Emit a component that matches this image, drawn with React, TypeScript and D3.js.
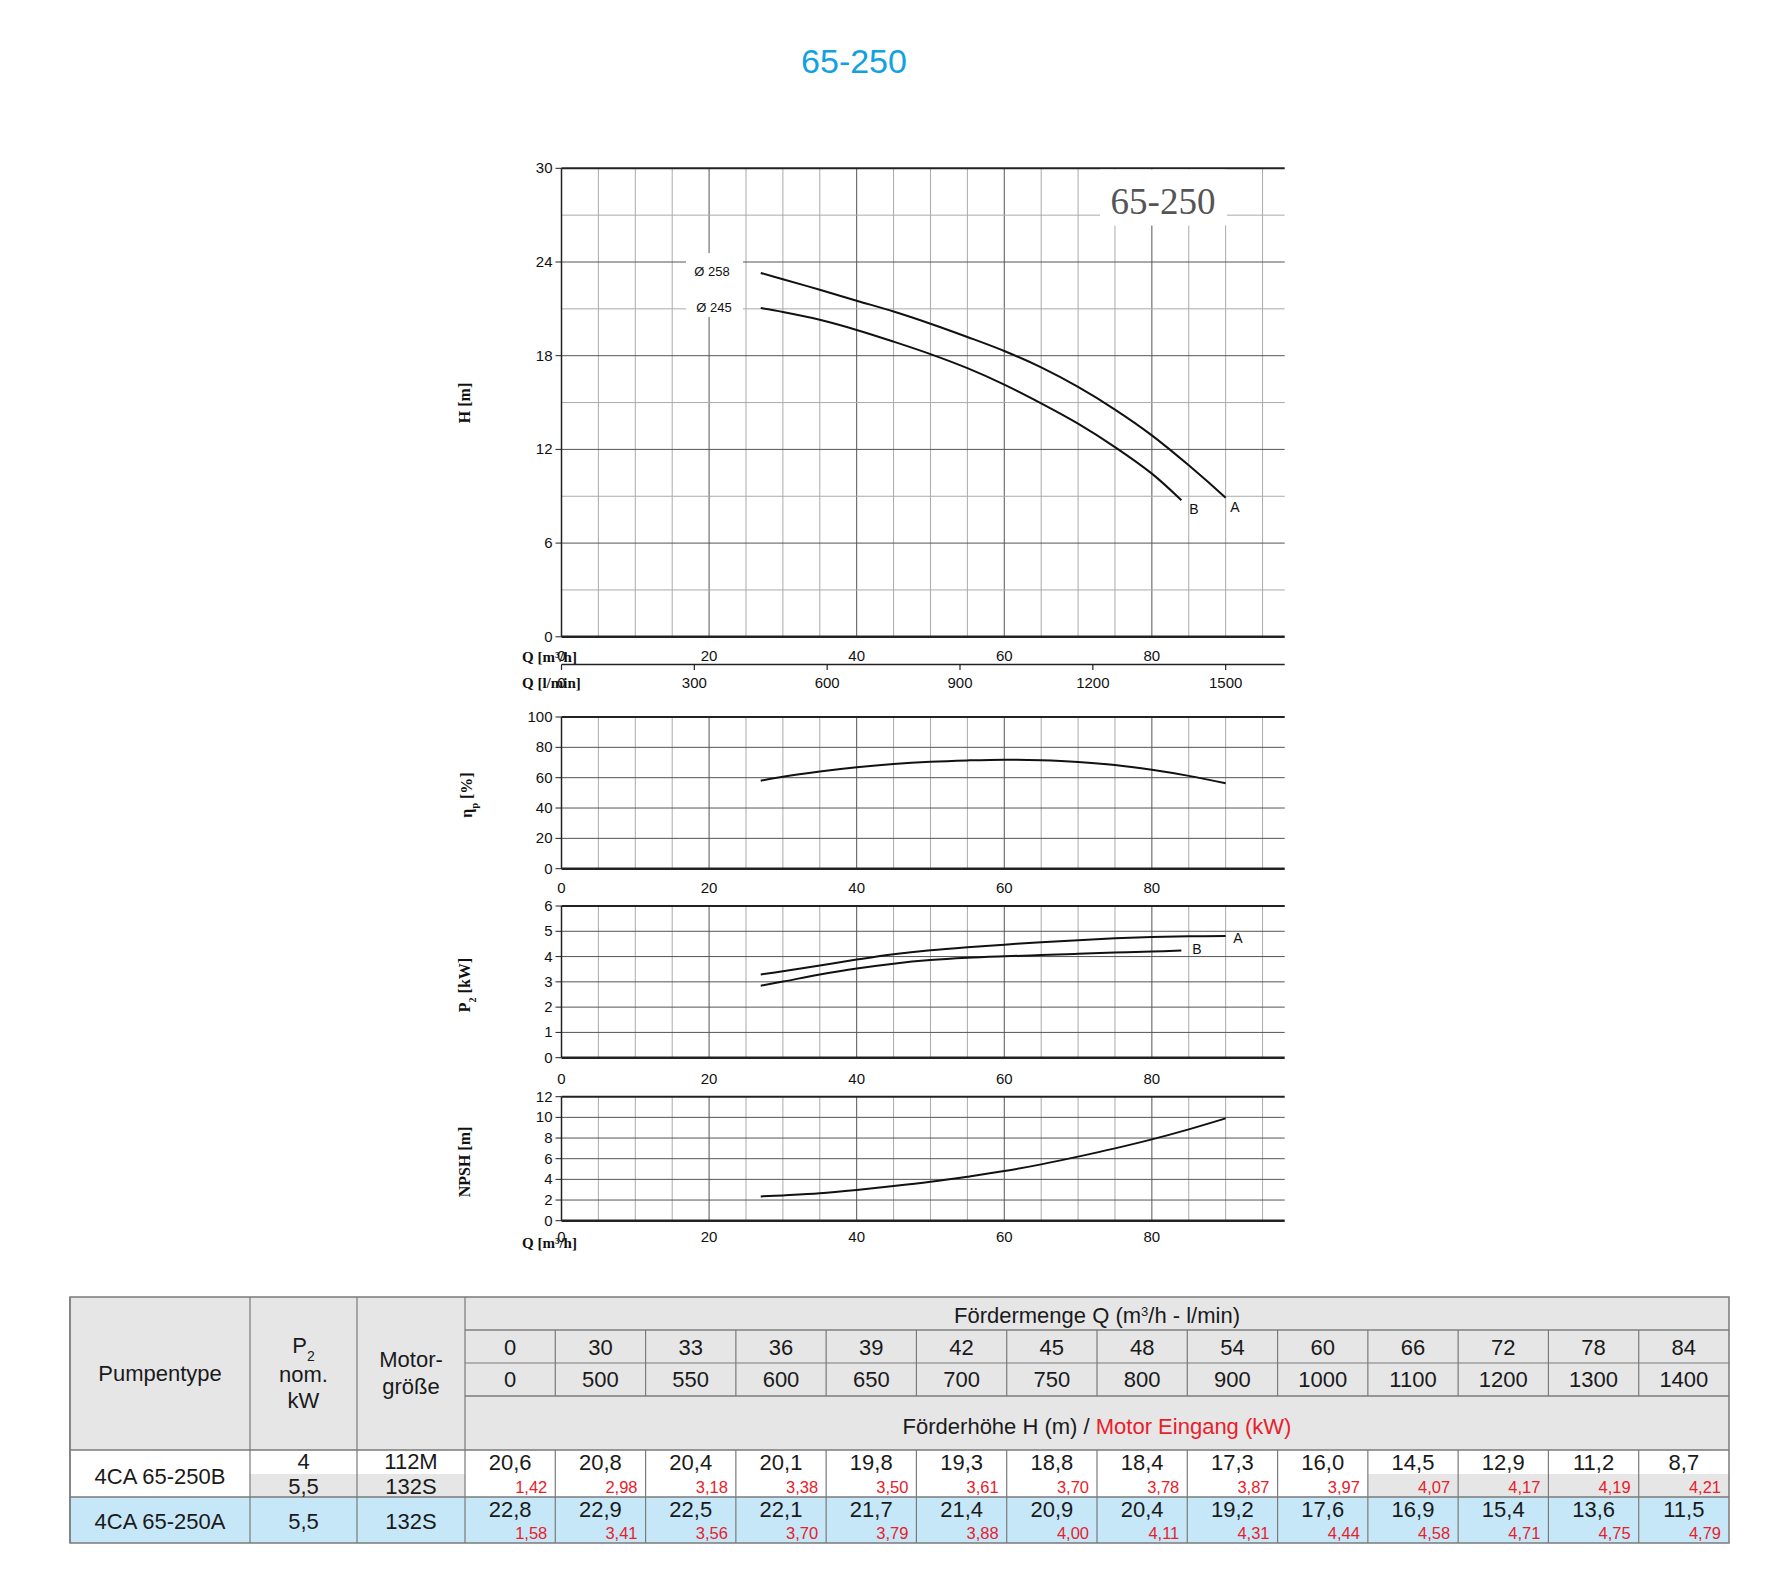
import { useEffect, useRef } from "react";
import * as d3 from "d3";

// axis ticks
const flowTicks = [0, 20, 40, 60, 80];
const lminTicks = [0, 300, 600, 900, 1200, 1500];
const headTicks = [0, 6, 12, 18, 24, 30];
const effTicks = [0, 20, 40, 60, 80, 100];
const powerTicks = [0, 1, 2, 3, 4, 5, 6];
const npshTicks = [0, 2, 4, 6, 8, 10, 12];

// curves (Q in m3/h)
const qA = [27, 30, 35, 40, 45, 50, 55, 60, 65, 70, 75, 80, 85, 90];
const headA = [23.3, 22.9, 22.22, 21.52, 20.83, 20.05, 19.2, 18.3, 17.25, 16.0, 14.55, 12.9, 10.98, 8.9];
const qB = [27, 30, 35, 40, 45, 50, 55, 60, 65, 70, 75, 80, 84];
const headB = [21.05, 20.8, 20.3, 19.65, 18.9, 18.1, 17.2, 16.15, 14.95, 13.65, 12.15, 10.45, 8.75];
const efficiency = [58.0, 60.6, 64.0, 66.8, 69.0, 70.5, 71.4, 71.9, 71.5, 70.4, 68.4, 65.2, 61.2, 56.3];
const powerA = [3.29, 3.42, 3.65, 3.88, 4.09, 4.25, 4.37, 4.47, 4.57, 4.65, 4.72, 4.77, 4.8, 4.81];
const powerB = [2.85, 3.01, 3.29, 3.53, 3.72, 3.86, 3.95, 4.01, 4.06, 4.11, 4.16, 4.2, 4.24];
const npsh = [2.35, 2.45, 2.65, 2.97, 3.35, 3.77, 4.26, 4.8, 5.45, 6.2, 7.0, 7.87, 8.84, 9.9];

// table
const tableQ = [0, 30, 33, 36, 39, 42, 45, 48, 54, 60, 66, 72, 78, 84];
const tableLmin = [0, 500, 550, 600, 650, 700, 750, 800, 900, 1000, 1100, 1200, 1300, 1400];
const tableHeadB = [20.6, 20.8, 20.4, 20.1, 19.8, 19.3, 18.8, 18.4, 17.3, 16.0, 14.5, 12.9, 11.2, 8.7];
const tablePowerB = [1.42, 2.98, 3.18, 3.38, 3.5, 3.61, 3.7, 3.78, 3.87, 3.97, 4.07, 4.17, 4.19, 4.21];
const tableHeadA = [22.8, 22.9, 22.5, 22.1, 21.7, 21.4, 20.9, 20.4, 19.2, 17.6, 16.9, 15.4, 13.6, 11.5];
const tablePowerA = [1.58, 3.41, 3.56, 3.7, 3.79, 3.88, 4.0, 4.11, 4.31, 4.44, 4.58, 4.71, 4.75, 4.79];

const SANS = "'Liberation Sans', Arial, sans-serif";
const SERIF = "'Liberation Serif', 'Times New Roman', serif";

export default function App() {
  const ref = useRef<SVGSVGElement | null>(null);

  useEffect(() => {
    const svg = d3.select(ref.current);
    svg.selectAll("*").remove();

    svg.append("rect").attr("width", 1770).attr("height", 1580).attr("fill", "#fff");

    // title
    svg.append("text").attr("x", 854).attr("y", 73).attr("text-anchor", "middle")
      .style("font-family", SANS).style("font-size", "34px").attr("fill", "#12a1e2").text("65-250");

    const x = d3.scaleLinear().domain([0, 98]).range([561.5, 1284.7]);
    const xl = d3.scaleLinear().domain([0, 98 * 1000 / 60]).range(x.range());
    const x0 = x(0), x1 = x(98);

    const panel = (y: d3.ScaleLinear<number, number>, ticks: number[], step: number, major: number) => {
      const g = svg.append("g");
      const [d0, d1] = y.domain();
      // vertical grid
      d3.range(5, 98, 5).forEach(v => {
        g.append("line").attr("x1", x(v)).attr("x2", x(v)).attr("y1", y(d1)).attr("y2", y(d0))
          .attr("stroke", v % 20 === 0 ? "#555" : "#aaa").attr("stroke-width", 1);
      });
      // horizontal grid
      d3.range(d0 + step, d1, step).forEach(v => {
        g.append("line").attr("x1", x0).attr("x2", x1).attr("y1", y(v)).attr("y2", y(v))
          .attr("stroke", Math.abs(v % major) < 1e-6 ? "#555" : "#aaa").attr("stroke-width", 1);
      });
      g.append("line").attr("x1", x0).attr("x2", x1).attr("y1", y(d1)).attr("y2", y(d1))
        .attr("stroke", "#222").attr("stroke-width", 2);
      g.append("line").attr("x1", x0).attr("x2", x1).attr("y1", y(d0)).attr("y2", y(d0))
        .attr("stroke", "#222").attr("stroke-width", 2.5);
      g.append("line").attr("x1", x0).attr("x2", x0).attr("y1", y(d1)).attr("y2", y(d0))
        .attr("stroke", "#222").attr("stroke-width", 1.5);
      ticks.forEach(t => {
        g.append("line").attr("x1", x0 - 6).attr("x2", x0).attr("y1", y(t)).attr("y2", y(t))
          .attr("stroke", "#222").attr("stroke-width", 1);
        g.append("text").attr("x", x0 - 9).attr("y", y(t) + 5).attr("text-anchor", "end")
          .style("font-family", SANS).style("font-size", "15px").attr("fill", "#111").text(t);
      });
      return g;
    };

    const curve = (g: any, y: d3.ScaleLinear<number, number>, qs: number[], vs: number[]) => {
      const line = d3.line<number>().x((_, i) => x(qs[i])).y(d => y(d)).curve(d3.curveCatmullRom.alpha(0.5));
      g.append("path").attr("d", line(vs)).attr("fill", "none").attr("stroke", "#111").attr("stroke-width", 2);
    };

    const xLabels = (baseline: number, values: number[], scale: (v: number) => number) => {
      values.forEach(v => {
        svg.append("text").attr("x", scale(v)).attr("y", baseline).attr("text-anchor", "middle")
          .style("font-family", SANS).style("font-size", "15px").attr("fill", "#111").text(v);
      });
    };

    const qLabel = (baseline: number, txt: string) => {
      svg.append("text").attr("x", 522).attr("y", baseline)
        .style("font-family", SERIF).style("font-size", "15px").style("font-weight", "bold")
        .attr("fill", "#111").text(txt);
    };

    const yTitle = (cx: number, cy: number, parts: [string, boolean][]) => {
      const t = svg.append("text").attr("transform", `translate(${cx},${cy}) rotate(-90)`)
        .attr("text-anchor", "middle").style("font-family", SERIF).style("font-size", "16px")
        .style("font-weight", "bold").attr("fill", "#111");
      parts.forEach(([s, sub]) => {
        const sp = t.append("tspan").text(s);
        if (sub) sp.attr("baseline-shift", "sub").style("font-size", "10px");
      });
    };

    // ---- H chart
    const yH = d3.scaleLinear().domain([0, 30]).range([636.8, 168.3]);
    const gH = panel(yH, headTicks, 3, 6);
    // label boxes
    gH.append("rect").attr("x", 1100).attr("y", 169.5).attr("width", 127).attr("height", 56).attr("fill", "#fff");
    gH.append("text").attr("x", 1163).attr("y", 214).attr("text-anchor", "middle")
      .style("font-family", SERIF).style("font-size", "37px").attr("fill", "#555").text("65-250");
    gH.append("rect").attr("x", 686).attr("y", 253).attr("width", 57).attr("height", 64).attr("fill", "#fff");
    gH.append("text").attr("x", 712).attr("y", 276).attr("text-anchor", "middle")
      .style("font-family", SANS).style("font-size", "13px").attr("fill", "#111").text("Ø 258");
    gH.append("text").attr("x", 714).attr("y", 312).attr("text-anchor", "middle")
      .style("font-family", SANS).style("font-size", "13px").attr("fill", "#111").text("Ø 245");
    curve(gH, yH, qA, headA);
    curve(gH, yH, qB, headB);
    gH.append("text").attr("x", 1235).attr("y", 512).attr("text-anchor", "middle")
      .style("font-family", SANS).style("font-size", "14px").attr("fill", "#111").text("A");
    gH.append("text").attr("x", 1194).attr("y", 514).attr("text-anchor", "middle")
      .style("font-family", SANS).style("font-size", "14px").attr("fill", "#111").text("B");

    qLabel(661.5, "Q [m³/h]");
    xLabels(661, flowTicks, x);
    // l/min axis
    svg.append("line").attr("x1", x0).attr("x2", x1).attr("y1", 664.5).attr("y2", 664.5)
      .attr("stroke", "#222").attr("stroke-width", 1.5);
    lminTicks.forEach(v => {
      svg.append("line").attr("x1", xl(v)).attr("x2", xl(v)).attr("y1", 664.5).attr("y2", 670)
        .attr("stroke", "#222").attr("stroke-width", 1.2);
    });
    qLabel(688, "Q [l/min]");
    xLabels(688, lminTicks, xl);
    yTitle(470, 403, [["H [m]", false]]);

    // ---- efficiency
    const yE = d3.scaleLinear().domain([0, 100]).range([868.7, 717]);
    const gE = panel(yE, effTicks, 20, 20);
    curve(gE, yE, qA, efficiency);
    xLabels(893, flowTicks, x);
    yTitle(472, 795, [["η", false], ["p", true], [" [%]", false]]);

    // ---- power
    const yP = d3.scaleLinear().domain([0, 6]).range([1057.7, 906]);
    const gP = panel(yP, powerTicks, 1, 1);
    curve(gP, yP, qA, powerA);
    curve(gP, yP, qB, powerB);
    gP.append("text").attr("x", 1238).attr("y", 943).attr("text-anchor", "middle")
      .style("font-family", SANS).style("font-size", "14px").attr("fill", "#111").text("A");
    gP.append("text").attr("x", 1197).attr("y", 954).attr("text-anchor", "middle")
      .style("font-family", SANS).style("font-size", "14px").attr("fill", "#111").text("B");
    xLabels(1084, flowTicks, x);
    yTitle(470, 985, [["P", false], ["2", true], [" [kW]", false]]);

    // ---- NPSH
    const yN = d3.scaleLinear().domain([0, 12]).range([1220.7, 1096.7]);
    const gN = panel(yN, npshTicks, 2, 2);
    curve(gN, yN, qA, npsh);
    xLabels(1242, flowTicks, x);
    qLabel(1248, "Q [m³/h]");
    yTitle(470, 1162, [["NPSH [m]", false]]);

    // ---- table
    const colX = [70, 250, 357, 465];
    const dataW = (1729 - 465) / tableQ.length;
    const cx = (i: number) => 465 + dataW * (i + 0.5);
    const rows = { top: 1297, r1: 1330, r2: 1363, r3: 1396, r4: 1450, b: 1497, split: 1474, a: 1543 };
    const tg = svg.append("g");
    tg.append("rect").attr("x", 70).attr("y", rows.top).attr("width", 1729 - 70).attr("height", rows.r4 - rows.top).attr("fill", "#e6e6e7");
    tg.append("rect").attr("x", 70).attr("y", rows.b).attr("width", 1729 - 70).attr("height", rows.a - rows.b).attr("fill", "#c6e7f8");
    tg.append("rect").attr("x", 250).attr("y", rows.split).attr("width", 215).attr("height", rows.b - rows.split).attr("fill", "#e6e6e7");
    tg.append("rect").attr("x", 465 + dataW * 10).attr("y", rows.split).attr("width", dataW * 4).attr("height", rows.b - rows.split).attr("fill", "#e6e6e7");

    const hl = (y: number, xa: number, xb: number, w = 1.2, c = "#7a7a7a") =>
      tg.append("line").attr("x1", xa).attr("x2", xb).attr("y1", y).attr("y2", y).attr("stroke", c).attr("stroke-width", w);
    const vl = (xv: number, ya: number, yb: number, w = 1.2, c = "#7a7a7a") =>
      tg.append("line").attr("x1", xv).attr("x2", xv).attr("y1", ya).attr("y2", yb).attr("stroke", c).attr("stroke-width", w);

    hl(rows.r1, 465, 1729, 2, "#999");
    hl(rows.r2, 465, 1729);
    hl(rows.r3, 465, 1729, 1.5);
    hl(rows.r4, 70, 1729, 1.5);
    hl(rows.b, 70, 1729, 1.5);
    colX.forEach(c => vl(c, rows.top, rows.a));
    tableQ.forEach((_, i) => {
      if (i === 0) return;
      const xv = 465 + dataW * i;
      vl(xv, rows.r1, rows.r3);
      vl(xv, rows.r4, rows.a);
    });
    tg.append("rect").attr("x", 70).attr("y", rows.top).attr("width", 1729 - 70).attr("height", rows.a - rows.top)
      .attr("fill", "none").attr("stroke", "#7a7a7a").attr("stroke-width", 1.5);

    const txt = (xv: number, yv: number, s: string, size = 22, color = "#1a1a1a", anchor = "middle") =>
      tg.append("text").attr("x", xv).attr("y", yv).attr("text-anchor", anchor)
        .style("font-family", SANS).style("font-size", `${size}px`).attr("fill", color).text(s);

    const f1 = (v: number) => d3.format(".1f")(v).replace(".", ",");
    const f2 = (v: number) => d3.format(".2f")(v).replace(".", ",");

    const fm = txt(1097, 1323, "Fördermenge Q (m");
    fm.append("tspan").attr("baseline-shift", "super").style("font-size", "13px").text("3");
    fm.append("tspan").text("/h - l/min)");
    tableQ.forEach((q, i) => txt(cx(i), 1355, String(q)));
    tableLmin.forEach((q, i) => txt(cx(i), 1387, String(q)));
    const fh = txt(1097, 1434, "Förderhöhe H (m) / ");
    fh.append("tspan").attr("fill", "#e8202a").text("Motor Eingang (kW)");

    txt(160, 1381, "Pumpentype");
    const p2 = txt(303.5, 1353, "P");
    p2.append("tspan").attr("baseline-shift", "sub").style("font-size", "14px").text("2");
    txt(303.5, 1382, "nom.");
    txt(303.5, 1408, "kW");
    txt(411, 1367, "Motor-");
    txt(411, 1394, "größe");

    txt(160, 1484, "4CA 65-250B");
    txt(303.5, 1469, "4");
    txt(303.5, 1494, "5,5");
    txt(411, 1469, "112M");
    txt(411, 1494, "132S");
    tableHeadB.forEach((v, i) => txt(cx(i), 1470, f1(v)));
    tablePowerB.forEach((v, i) => txt(465 + dataW * (i + 1) - 8, 1493, f2(v), 16.5, "#e8202a", "end"));

    txt(160, 1529, "4CA 65-250A");
    txt(303.5, 1529, "5,5");
    txt(411, 1529, "132S");
    tableHeadA.forEach((v, i) => txt(cx(i), 1517, f1(v)));
    tablePowerA.forEach((v, i) => txt(465 + dataW * (i + 1) - 8, 1539, f2(v), 16.5, "#e8202a", "end"));
  }, []);

  return (
    <svg ref={ref} width={1770} height={1580}
      style={{ position: "absolute", left: 0, top: 0, display: "block" }} />
  );
}
